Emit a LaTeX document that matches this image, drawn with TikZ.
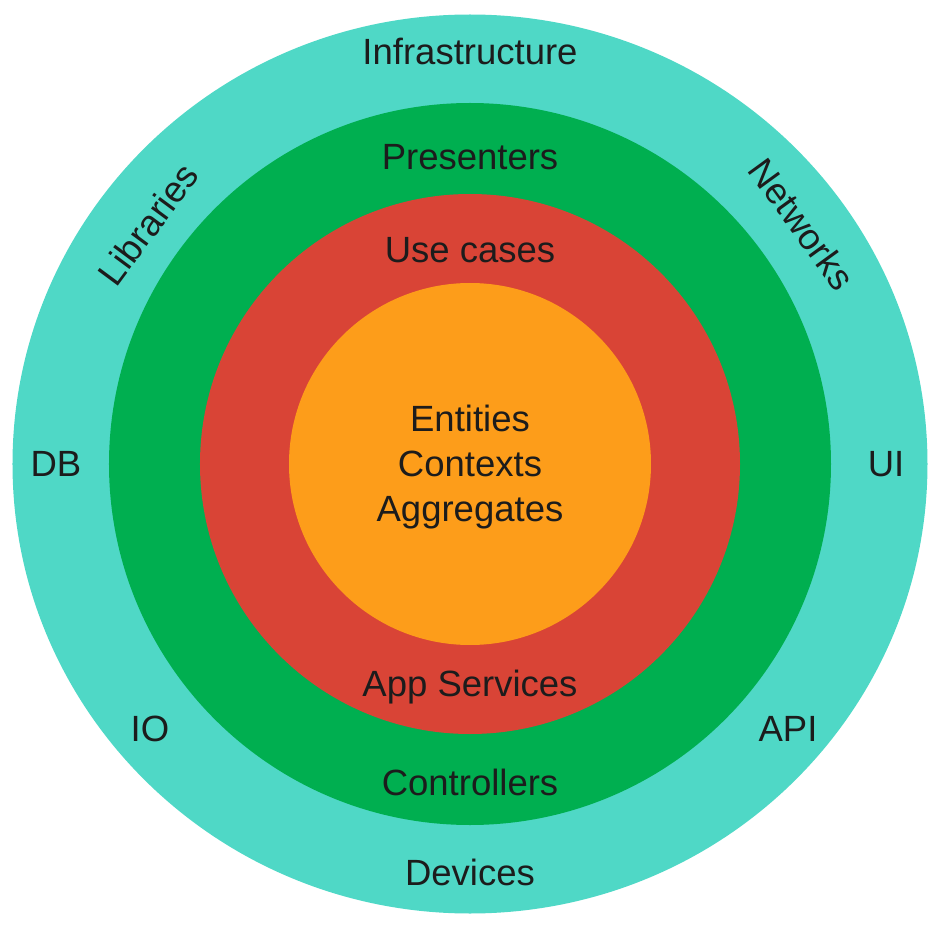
\documentclass[tikz,border=0pt]{standalone}
\usepackage{fontspec}
\setmainfont{Liberation Sans}
\definecolor{infracol}{HTML}{4FD8C6}
\definecolor{adaptcol}{HTML}{00AF50}
\definecolor{usecol}{HTML}{D94436}
\definecolor{domaincol}{HTML}{FD9D1A}
\definecolor{txtcol}{HTML}{1C1C1C}

\begin{document}
\begin{tikzpicture}[x=1bp, y=1bp,
    ring/.style={fill=#1, draw=none},
    lbl/.style={text=txtcol, font=\fontsize{36.5bp}{45bp}\selectfont, inner sep=0pt, anchor=base},
    bent/.style={lbl, anchor=center, rotate=#1}
    ]
		\useasboundingbox (-470,-462) rectangle (468,464);

		% the four layers
		\fill[ring=infracol] (0,0) ellipse [x radius=457.5, y radius=449.5];
		\fill[ring=adaptcol] (0,0) circle [radius=361];
		\fill[ring=usecol] (0,0) circle [radius=270];
		\fill[ring=domaincol] (0,0) circle [radius=181];

		% outer layer
		\node[lbl] (infra) at (0,399) {Infrastructure};
		\node[lbl] (devices) at (0,-421) {Devices};
		\node[lbl] (db) at (-414,-12) {DB};
		\node[lbl] (ui) at (416,-12) {UI};
		\node[lbl] (io) at (-320,-277) {IO};
		\node[lbl] (api) at (318,-277) {API};
		\node[bent=53.5] (libs) at (-322,240) {Libraries};
		\node[bent=-54] (nets) at (332,240) {Networks};

		% adapters
		\node[lbl] (presenters) at (0,294) {Presenters};
		\node[lbl] (controllers) at (0,-331) {Controllers};

		% use cases
		\node[lbl] (usecases) at (0,201) {Use cases};
		\node[lbl] (services) at (0,-232) {App Services};

		% domain
		\node[lbl, align=center, anchor=center] (domain) at (0,-3) {
			Entities\\
			Contexts\\
			Aggregates
		};
\end{tikzpicture}
\end{document}
